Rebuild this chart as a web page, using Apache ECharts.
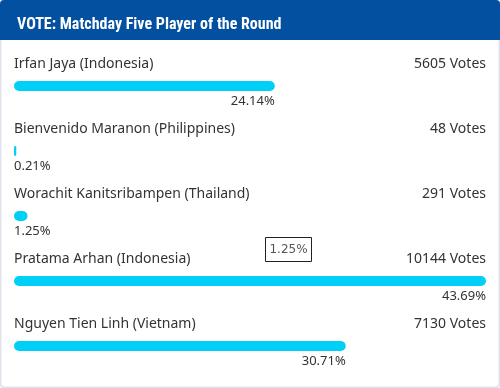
<!DOCTYPE html>
<html>
<head>
<meta charset="utf-8">
<script src="https://cdn.jsdelivr.net/npm/echarts@6/dist/echarts.min.js"></script>
<style>
html,body{margin:0;padding:0;background:#fff;}
#chart{width:500px;height:388px;}
</style>
</head>
<body>
<div id="chart"></div>
<script>
var players = ['Irfan Jaya (Indonesia)', 'Bienvenido Maranon (Philippines)', 'Worachit Kanitsribampen (Thailand)', 'Pratama Arhan (Indonesia)', 'Nguyen Tien Linh (Vietnam)'];
var votes = [5605, 48, 291, 10144, 7130];
var percents = [24.14, 0.21, 1.25, 43.69, 30.71];
var titleText = 'VOTE: Matchday Five Player of the Round';
var hoverText = '1.25%';

var FONT = '"Noto Sans"';
var measureCtx = document.createElement('canvas').getContext('2d');
function textWidth(t, size) { measureCtx.font = size + 'px ' + FONT; return measureCtx.measureText(t).width; }

var data = players.map(function (p, i) { return [i, percents[i], votes[i]]; });

var chart = echarts.init(document.getElementById('chart'));
chart.setOption({
  animation: false,
  title: {
    text: titleText, left: 12, top: 12,
    textStyle: { color: '#ffffff', fontFamily: '"Roboto Condensed"', fontWeight: 'bold', fontSize: 16 }
  },
  grid: { left: 14, right: 14, top: 53.5, bottom: 9.5 },
  xAxis: { type: 'value', min: 0, max: 'dataMax', show: false },
  yAxis: { type: 'category', data: players, inverse: true, show: false },
  graphic: [
    { type: 'rect', z: -10, shape: { x: 0.5, y: 0.5, width: 499, height: 387, r: 4 }, style: { fill: '#fff', stroke: '#dde4ed', lineWidth: 2 } },
    { type: 'rect', z: -5, shape: { x: 0, y: 0, width: 500, height: 40, r: [4, 4, 0, 0] }, style: { fill: '#0450a0' } },
    { type: 'group', left: 265, top: 237, z: 100, children: [
      { type: 'rect', shape: { x: 0.5, y: 0.5, width: 46, height: 24 }, style: { fill: '#fff', stroke: '#222', lineWidth: 1 } },
      { type: 'text', style: { x: 23.5, y: 12.5, text: hoverText, align: 'center', verticalAlign: 'middle', fill: '#555', font: '12px "DejaVu Sans", sans-serif' } }
    ] }
  ],
  series: [{
    type: 'custom',
    data: data,
    encode: { x: 1, y: 0 },
    renderItem: function (params, api) {
      var idx = api.value(0), val = api.value(1), v = api.value(2);
      var start = api.coord([0, idx]);
      var end = api.coord([val, idx]);
      var right = params.coordSys.x + params.coordSys.width;
      var y = start[1];
      var w = Math.max(end[0] - start[0], 2);
      var pctStr = percents[idx].toFixed(2) + '%';
      var pw = textWidth(pctStr, 13);
      var pctLeft = pw > w;
      return {
        type: 'group',
        children: [
          { type: 'rect', shape: { x: start[0], y: y - 5, width: w, height: 10, r: 5 }, style: { fill: '#00cff7' } },
          { type: 'text', style: { x: start[0], y: y - 22, text: players[idx], align: 'left', verticalAlign: 'middle', fill: '#333', font: '14px ' + FONT } },
          { type: 'text', style: { x: right, y: y - 22, text: v + ' Votes', align: 'right', verticalAlign: 'middle', fill: '#333', font: '14px ' + FONT } },
          { type: 'text', style: { x: pctLeft ? start[0] : end[0], y: y + 15, text: pctStr, align: pctLeft ? 'left' : 'right', verticalAlign: 'middle', fill: '#333', font: '13px ' + FONT } }
        ]
      };
    }
  }]
});
</script>
</body>
</html>
